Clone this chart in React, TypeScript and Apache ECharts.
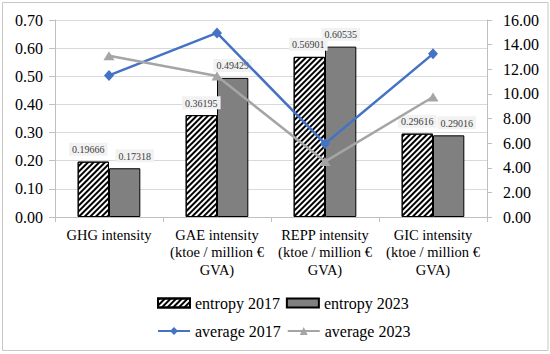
import React, { useEffect, useRef } from "react";
import * as echarts from "echarts";

const categories = [
  "GHG intensity",
  "GAE intensity\n(ktoe / million €\nGVA)",
  "REPP intensity\n(ktoe / million €\nGVA)",
  "GIC intensity\n(ktoe / million €\nGVA)",
];
const entropy2017 = [0.19666, 0.36195, 0.56901, 0.29616];
const entropy2023 = [0.17318, 0.49429, 0.60535, 0.29016];
const average2017 = [11.5, 14.95, 5.95, 13.25];
const average2023 = [13.1, 11.45, 4.5, 9.75];
const leftTicks = { min: 0, max: 0.7, interval: 0.1 };
const rightTicks = { min: 0, max: 16, interval: 2 };
const offsets2017 = [[-5, 0], [0, 0], [-1, 0], [0, 0]];
const offsets2023 = [[10, 0], [0, 0], [0, 0], [8, 0]];

const FONT = "Liberation Serif";

export default function App() {
  const ref = useRef<HTMLDivElement>(null);
  useEffect(() => {
    if (!ref.current) return;
    const chart = echarts.init(ref.current, undefined, { renderer: "svg" });
    const label = {
      show: true,
      position: "top",
      distance: 6,
      fontFamily: FONT,
      fontSize: 10,
      color: "#404040",
      backgroundColor: "#f2f2f2",
      padding: [2, 3, 1, 3],
      formatter: (p: any) => p.value.toFixed(5),
    };
    chart.setOption({
      animation: false,
      backgroundColor: "#ffffff",
      textStyle: { fontFamily: FONT },
      graphic: [
        {
          type: "rect",
          shape: { x: 2.5, y: 2.5, width: 545.5, height: 348 },
          style: { fill: "none", stroke: "#c8c8c8", lineWidth: 1 },
          silent: true,
        },
      ],
      grid: { left: 55, right: 63, top: 20, bottom: 137 },
      legend: [
        {
          data: ["entropy 2017", "entropy 2023"],
          left: 152,
          top: 290,
          icon: "rect",
          itemWidth: 32,
          itemHeight: 9,
          itemGap: 6,
          textStyle: { fontFamily: FONT, fontSize: 16, color: "#000" },
        },
        {
          data: ["average 2017", "average 2023"],
          left: 152,
          top: 318,
          itemWidth: 32,
          itemHeight: 10,
          itemGap: 6,
          textStyle: { fontFamily: FONT, fontSize: 16, color: "#000" },
        },
      ],
      xAxis: {
        type: "category",
        data: categories,
        axisLine: { lineStyle: { color: "#bfbfbf" } },
        axisTick: { show: true, length: 5, lineStyle: { color: "#bfbfbf" } },
        axisLabel: {
          fontFamily: FONT,
          fontSize: 14.5,
          lineHeight: 17.5,
          color: "#000",
          margin: 9,
          interval: 0,
        },
      },
      yAxis: [
        {
          type: "value",
          ...leftTicks,
          axisLine: { show: true, lineStyle: { color: "#bfbfbf" } },
          axisTick: { show: true, length: 6, lineStyle: { color: "#bfbfbf" } },
          splitLine: { lineStyle: { color: "#d9d9d9" } },
          axisLabel: {
            fontFamily: FONT,
            fontSize: 16,
            color: "#000",
            margin: 12,
            formatter: (v: number) => v.toFixed(2),
          },
        },
        {
          type: "value",
          ...rightTicks,
          position: "right",
          axisLine: { show: true, lineStyle: { color: "#bfbfbf" } },
          axisTick: { show: true, length: 5, lineStyle: { color: "#bfbfbf" } },
          splitLine: { show: false },
          axisLabel: {
            fontFamily: FONT,
            fontSize: 16,
            color: "#000",
            margin: 16,
            formatter: (v: number) => v.toFixed(2),
          },
        },
      ],
      series: [
        {
          name: "entropy 2017",
          type: "bar",
          barGap: "0%",
          barCategoryGap: "42%",
          data: entropy2017.map((v, i) => ({ value: v, label: { offset: offsets2017[i] } })),
          itemStyle: {
            color: "#ffffff",
            borderColor: "#000000",
            borderWidth: 1,
            decal: {
              symbol: "rect",
              symbolSize: 1,
              color: "#000000",
              dashArrayX: [1, 0],
              dashArrayY: [1.4, 2],
              rotation: -Math.PI / 4,
            },
          },
          label,
        },
        {
          name: "entropy 2023",
          type: "bar",
          data: entropy2023.map((v, i) => ({ value: v, label: { offset: offsets2023[i] } })),
          itemStyle: { color: "#808080", borderColor: "#000000", borderWidth: 1 },
          label,
        },
        {
          name: "average 2017",
          type: "line",
          yAxisIndex: 1,
          data: average2017,
          symbol: "diamond",
          symbolSize: [10, 11],
          lineStyle: { color: "#4472C4", width: 2.5 },
          itemStyle: { color: "#4472C4" },
        },
        {
          name: "average 2023",
          type: "line",
          yAxisIndex: 1,
          data: average2023,
          symbol: "triangle",
          symbolSize: [11, 9],
          lineStyle: { color: "#A5A5A5", width: 2.5 },
          itemStyle: { color: "#A5A5A5" },
        },
      ],
    });
    return () => chart.dispose();
  }, []);
  return (
    <div
      ref={ref}
      style={{ position: "fixed", left: 0, top: 0, width: 550, height: 354 }}
    />
  );
}
